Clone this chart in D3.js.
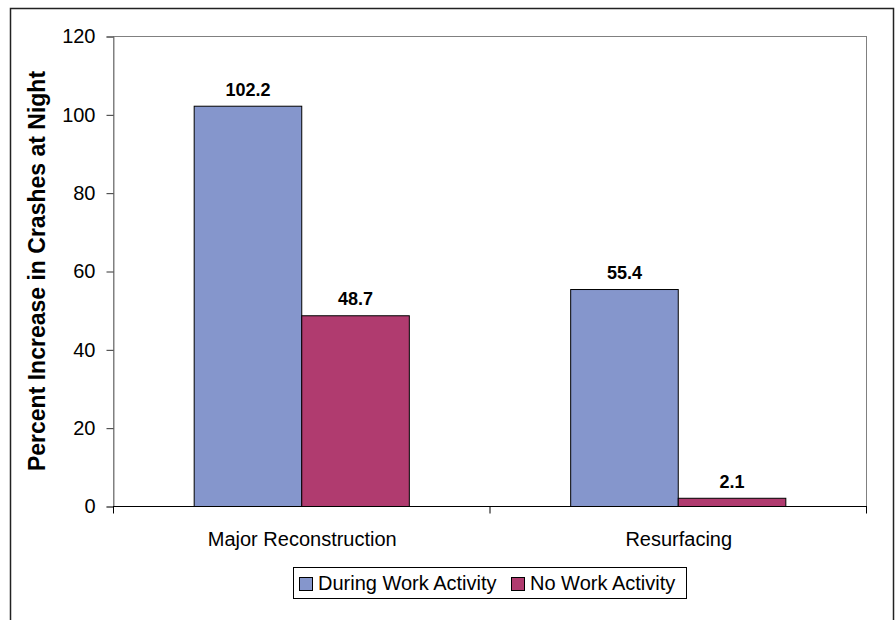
<!DOCTYPE html>
<html><head><meta charset="utf-8">
<script src="https://cdn.jsdelivr.net/npm/d3@7"></script>
<style>body{margin:0;background:#fff;} svg{display:block;font-family:Arial,"Liberation Sans",sans-serif;}</style>
</head><body>
<svg id="c" width="896" height="620"></svg>
<script>
const categories = ["Major Reconstruction", "Resurfacing"];
const seriesNames = ["During Work Activity", "No Work Activity"];
const duringWork = [102.2, 55.4];
const noWork = [48.7, 2.1];
const yTicks = [0, 20, 40, 60, 80, 100, 120];
const colors = ["#8596CC", "#B03B6F"];

const svg = d3.select("#c");
// outer frame
svg.append("rect").attr("x", 10.5).attr("y", 8.5).attr("width", 883).attr("height", 640)
  .attr("fill", "none").attr("stroke", "#222").attr("stroke-width", 1.5);

const L = 113, R = 866, T = 36, B = 506;
const y = d3.scaleLinear().domain([0, 120]).range([B, T]);
const x0 = d3.scaleBand().domain(categories).range([L, R]).paddingInner(0).paddingOuter(0);
const bw = x0.bandwidth() / 3.5;

// plot border (grey)
svg.append("rect").attr("x", L + 0.5).attr("y", T + 0.5).attr("width", R - L).attr("height", B - T)
  .attr("fill", "none").attr("stroke", "#808080").attr("stroke-width", 1);

const data = categories.map((c, i) => ({ cat: c, vals: [duringWork[i], noWork[i]] }));
const g = svg.append("g");
data.forEach(d => {
  d.vals.forEach((v, j) => {
    const bx = x0(d.cat) + (x0.bandwidth() - 2 * bw) / 2 + j * bw;
    g.append("rect").attr("x", bx + 0.5).attr("y", y(v) + 0.5).attr("width", bw).attr("height", y(0) - y(v))
      .attr("fill", colors[j]).attr("stroke", "#000").attr("stroke-width", 1);
    g.append("text").attr("x", bx + bw / 2 + 0.5).attr("y", y(v) - 10).attr("text-anchor", "middle")
      .attr("font-size", 18).attr("font-weight", "bold").attr("fill", "#000").text(v.toFixed(1));
  });
});

// y axis
const yAxis = d3.axisLeft(y).tickValues(yTicks).tickSize(7).tickPadding(11);
const ya = svg.append("g").attr("transform", `translate(${L + 0.5},0.5)`).call(yAxis);
ya.select(".domain").attr("stroke", "#808080");
ya.selectAll(".tick line").attr("stroke", "#333");
ya.selectAll("text").attr("font-size", 20).attr("fill", "#000").attr("font-family", "Arial, 'Liberation Sans', sans-serif");

// x axis
const xa = svg.append("g").attr("transform", `translate(0,${B + 0.5})`);
xa.append("line").attr("x1", L).attr("x2", R + 1).attr("y1", 0).attr("y2", 0).attr("stroke", "#000");
const bounds = [L, L + x0.bandwidth(), R];
bounds.forEach(bx => xa.append("line").attr("x1", bx + 0.5).attr("x2", bx + 0.5).attr("y1", 0).attr("y2", 7).attr("stroke", "#000"));
categories.forEach(c => xa.append("text").attr("x", x0(c) + x0.bandwidth() / 2 + 1).attr("y", 39)
  .attr("text-anchor", "middle").attr("font-size", 20).attr("fill", "#000").text(c));

// y title
svg.append("text").attr("transform", `translate(45,271) rotate(-90)`).attr("text-anchor", "middle")
  .attr("font-size", 23).attr("font-weight", "bold").attr("fill", "#000").text("Percent Increase in Crashes at Night");

// legend
const lg = svg.append("g");
lg.append("rect").attr("x", 293.5).attr("y", 567.5).attr("width", 393).attr("height", 31)
  .attr("fill", "#fff").attr("stroke", "#000");
const lx = [299, 511];
seriesNames.forEach((s, j) => {
  lg.append("rect").attr("x", lx[j] + 0.5).attr("y", 577.5).attr("width", 13).attr("height", 13)
    .attr("fill", colors[j]).attr("stroke", "#000");
  lg.append("text").attr("x", lx[j] + 19).attr("y", 590).attr("font-size", 20).attr("fill", "#000").text(s);
});
</script>
</body></html>
